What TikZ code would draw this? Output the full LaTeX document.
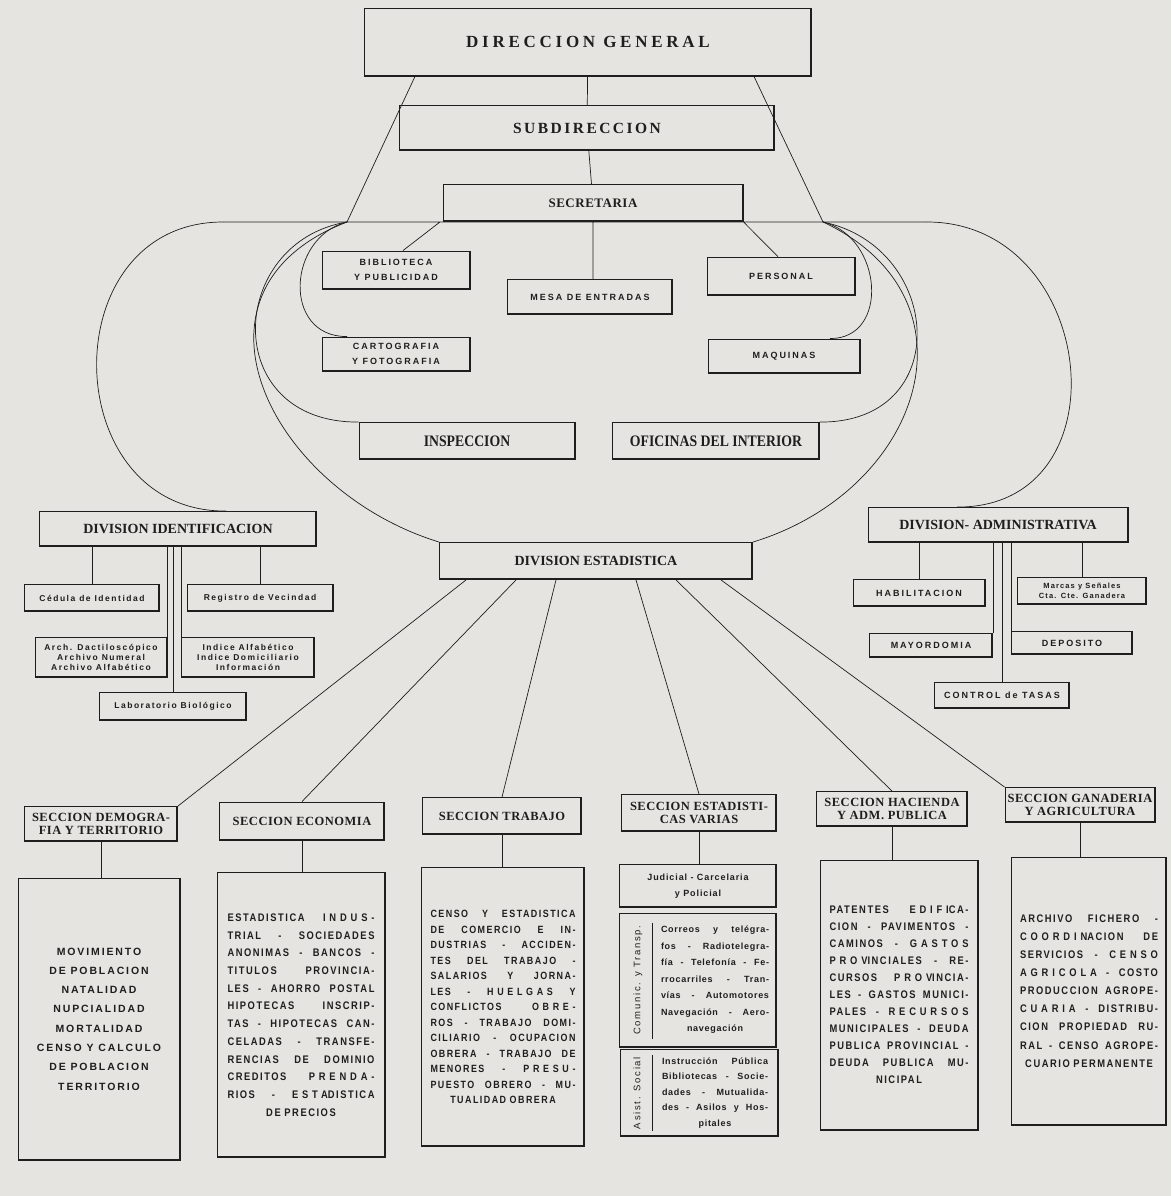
\documentclass[tikz,border=0pt]{standalone}
\usepackage{fontspec}
\setmainfont{Liberation Serif}
\newfontfamily\grot{Liberation Sans}[LetterSpace=5]
\usetikzlibrary{positioning, calc}
\definecolor{paper}{RGB}{229,228,224}
\definecolor{ink}{RGB}{30,30,30}
\newlength{\jw}
\newcommand{\cf}[2]{\grot\bfseries\fontsize{#1}{#2}\selectfont\addfontfeatures{FakeStretch=0.85,LetterSpace=14}}
\newcommand{\ls}[1]{{\addfontfeatures{LetterSpace=35}#1}}
\newcommand{\jl}[1]{\noindent\hbox to\jw{\spaceskip=0.3em plus 1fill minus 0.12em\relax #1}\\}

\begin{document}
\begin{tikzpicture}[x=1pt, y=-1pt,
    box/.style={draw=ink, line width=0.9pt, inner sep=2pt, text=ink,
        path picture={\draw[ink, line width=2.4pt]
            (path picture bounding box.south west) -- (path picture bounding box.south east)
            -- (path picture bounding box.north east);}},
    lbl/.style={box, align=center, font=\grot\bfseries\fontsize{9}{14.5}\selectfont\addfontfeatures{LetterSpace=22}},
    sml/.style={box, align=center, font=\grot\bfseries\fontsize{8.5}{10}\selectfont\addfontfeatures{LetterSpace=18}},
    div/.style={box, font=\bfseries\fontsize{14}{14}\selectfont},
    sechd/.style={box, align=center, font=\bfseries\fontsize{12.5}{12.5}\selectfont\addfontfeatures{LetterSpace=4}},
    txt/.style={box, align=center, font=\cf{11}{17.7}},
    just/.style={text width=#1, execute at begin node={\setlength{\jw}{#1pt}}},
    conn/.style={draw=ink, line width=0.7pt}]

    \fill[paper] (0,0) rectangle (1171,1196);
    \useasboundingbox (0,0) rectangle (1171,1196);

    \node[box, minimum width=447, minimum height=68, font=\bfseries\fontsize{17}{17}\selectfont\addfontfeatures{LetterSpace=22}] (dg) at (588,42) {DIRECCION GENERAL};
    \node[box, minimum width=375, minimum height=45, font=\bfseries\fontsize{15.5}{16}\selectfont\addfontfeatures{LetterSpace=16}] (sub) at (587,128) {SUBDIRECCION};
    \node[box, minimum width=300, minimum height=37, font=\bfseries\fontsize{13}{13}\selectfont\addfontfeatures{LetterSpace=4}] (sec) at (593,203) {SECRETARIA};

    \node[lbl, minimum width=148, minimum height=38] (bib) at (396,270) {BIBLIOTECA\\Y PUBLICIDAD};
    \node[lbl, minimum width=165, minimum height=35] (mesa) at (590,297) {MESA DE ENTRADAS};
    \node[lbl, minimum width=148, minimum height=38] (per) at (781,276) {PERSONAL};
    \node[lbl, minimum width=148, minimum height=34] (carto) at (396,354) {CARTOGRAFIA\\Y FOTOGRAFIA};
    \node[lbl, minimum width=152, minimum height=34] (maq) at (784,356) {MAQUINAS};
    \node[box, minimum width=216, minimum height=37, font=\bfseries\fontsize{16}{16}\selectfont\addfontfeatures{FakeStretch=0.86}] (insp) at (467,441) {INSPECCION};
    \node[box, minimum width=207, minimum height=37, font=\bfseries\fontsize{16}{16}\selectfont\addfontfeatures{FakeStretch=0.86}] (ofi) at (716,441) {OFICINAS DEL INTERIOR};

    \node[div, minimum width=277, minimum height=35] (di) at (178,529) {DIVISION IDENTIFICACION};
    \node[div, minimum width=313, minimum height=37] (de) at (596,561) {DIVISION ESTADISTICA};
    \node[div, minimum width=260, minimum height=35] (da) at (998,525) {DIVISION- ADMINISTRATIVA};

    \node[sml, minimum width=135, minimum height=27] (ced) at (92,598) {Cédula de Identidad};
    \node[sml, minimum width=146, minimum height=27] (reg) at (260,598) {Registro de Vecindad};
    \node[sml, minimum width=132, minimum height=40] (arch) at (101,657) {Arch. Dactiloscópico\\Archivo Numeral\\Archivo Alfabético};
    \node[sml, minimum width=133, minimum height=40] (ind) at (248,657) {Indice Alfabético\\Indice Domiciliario\\Información};
    \node[sml, minimum width=147, minimum height=28] (lab) at (173,706) {Laboratorio Biológico};

    \node[lbl, minimum width=132, minimum height=27] (hab) at (919,593) {HABILITACION};
    \node[sml, minimum width=129, minimum height=27, font=\grot\bfseries\fontsize{7.5}{10}\selectfont\addfontfeatures{LetterSpace=15}] (mar) at (1082,591) {Marcas y Señales\\Cta. Cte. Ganadera};
    \node[lbl, minimum width=123, minimum height=24] (may) at (931,645) {MAYORDOMIA};
    \node[lbl, minimum width=121, minimum height=23] (dep) at (1072,643) {DEPOSITO};
    \node[lbl, minimum width=135, minimum height=26] (ctl) at (1002,695) {CONTROL de TASAS};

    \node[sechd, minimum width=153, minimum height=35] (dem) at (101,824) {SECCION DEMOGRA-\\FIA Y TERRITORIO};
    \node[sechd, minimum width=165, minimum height=38] (eco) at (302,821) {SECCION ECONOMIA};
    \node[sechd, minimum width=159, minimum height=37] (tra) at (502,816) {SECCION TRABAJO};
    \node[sechd, minimum width=155, minimum height=37] (var) at (699,813) {SECCION ESTADISTI-\\CAS VARIAS};
    \node[sechd, minimum width=151, minimum height=35] (hac) at (892,809) {SECCION HACIENDA\\Y ADM. PUBLICA};
    \node[sechd, minimum width=150, minimum height=35] (gan) at (1080,805) {SECCION GANADERIA\\Y AGRICULTURA};

    \node[txt, minimum width=162, minimum height=282, font=\grot\bfseries\fontsize{10.5}{19.3}\selectfont\addfontfeatures{LetterSpace=18}] (demc) at (99,1019)
        {MOVIMIENTO\\DE POBLACION\\NATALIDAD\\NUPCIALIDAD\\MORTALIDAD\\CENSO Y CALCULO\\DE POBLACION\\TERRITORIO};
    \node[txt, just=147, minimum width=168, minimum height=285] (ecoc) at (301,1015)
        {\jl{ESTADISTICA \ls{INDUS-}}
         \jl{TRIAL - SOCIEDADES}
         \jl{ANONIMAS - BANCOS -}
         \jl{TITULOS PROVINCIA-}
         \jl{LES - AHORRO POSTAL}
         \jl{HIPOTECAS INSCRIP-}
         \jl{TAS - HIPOTECAS CAN-}
         \jl{CELADAS - TRANSFE-}
         \jl{RENCIAS DE DOMINIO}
         \jl{CREDITOS \ls{PRENDA-}}
         \jl{RIOS - \ls{ESTA}DISTICA}
         DE PRECIOS};
    \node[txt, just=145, minimum width=163, minimum height=279, font=\cf{10.5}{15.5}] (trac) at (503,1007)
        {\jl{CENSO Y ESTADISTICA}
         \jl{DE COMERCIO E IN-}
         \jl{DUSTRIAS - ACCIDEN-}
         \jl{TES DEL TRABAJO -}
         \jl{SALARIOS Y JORNA-}
         \jl{LES - \ls{HUELGAS} Y}
         \jl{CONFLICTOS \ls{OBRE-}}
         \jl{ROS - TRABAJO DOMI-}
         \jl{CILIARIO - OCUPACION}
         \jl{OBRERA - TRABAJO DE}
         \jl{MENORES - \ls{PRESU-}}
         \jl{PUESTO OBRERO - MU-}
         TUALIDAD OBRERA};

    \node[box, align=center, minimum width=157, minimum height=43, font=\grot\bfseries\fontsize{9}{16}\selectfont\addfontfeatures{LetterSpace=10}] (jud) at (698,886) {Judicial - Carcelaria\\y Policial};
    \node[box, minimum width=157, minimum height=134] (com) at (698,980) {};
    \node[box, minimum width=158, minimum height=87] (asi) at (699,1093) {};
    \node[text=ink, just=108, align=center, font=\grot\bfseries\fontsize{9}{16.5}\selectfont\addfontfeatures{LetterSpace=8}] (comt) at (715,980)
        {\jl{Correos y telégra-}
         \jl{fos - Radiotelegra-}
         \jl{fía - Telefonía - Fe-}
         \jl{rrocarriles - Tran-}
         \jl{vías - Automotores}
         \jl{Navegación - Aero-}
         navegación};
    \node[text=ink, just=106, align=center, font=\grot\bfseries\fontsize{9}{15.5}\selectfont\addfontfeatures{LetterSpace=8}] (asit) at (715,1093)
        {\jl{Instrucción Pública}
         \jl{Bibliotecas - Socie-}
         \jl{dades - Mutualida-}
         \jl{des - Asilos y Hos-}
         pitales};
    \node[rotate=90, text=ink, font=\grot\fontsize{9.5}{9.5}\selectfont\addfontfeatures{LetterSpace=18}] (coml) at (638,980) {Comunic. y Transp.};
    \node[rotate=90, text=ink, font=\grot\fontsize{9.5}{9.5}\selectfont\addfontfeatures{LetterSpace=18}] (asil) at (637,1093) {Asist. Social};

    \node[txt, just=139, minimum width=158, minimum height=270, font=\cf{11}{17}] (hacc) at (899,995)
        {\jl{PATENTES \ls{EDIFI}CA-}
         \jl{CION - PAVIMENTOS -}
         \jl{CAMINOS - \ls{GASTOS}}
         \jl{\ls{PROV}INCIALES - RE-}
         \jl{CURSOS \ls{PROV}INCIA-}
         \jl{LES - GASTOS MUNICI-}
         \jl{PALES - \ls{RECURSOS}}
         \jl{MUNICIPALES - DEUDA}
         \jl{PUBLICA PROVINCIAL -}
         \jl{DEUDA PUBLICA MU-}
         NICIPAL};
    \node[txt, just=138, minimum width=155, minimum height=268, font=\cf{11}{18.1}] (ganc) at (1089,991)
        {\jl{ARCHIVO FICHERO -}
         \jl{\ls{COORDIN}ACION DE}
         \jl{SERVICIOS - \ls{CENSO}}
         \jl{\ls{AGRICOLA} - COSTO}
         \jl{PRODUCCION AGROPE-}
         \jl{\ls{CUARIA} - DISTRIBU-}
         \jl{CION PROPIEDAD RU-}
         \jl{RAL - CENSO AGROPE-}
         CUARIO PERMANENTE};

    \coordinate (lo) at (223,222);
    \coordinate (lj) at (347,222);
    \coordinate (rj) at (823,222);
    \coordinate (ro) at (927,222);

    \draw[conn] (dg) -- (sub) (sub) -- (sec)
        (lo) -- (ro)
        ([xshift=-173pt]dg.south) -- (lj)
        ([xshift=166pt]dg.south) -- (rj)
        ([xshift=-153pt]sec.south) -- ([xshift=7pt]bib.north)
        (sec.south east) -- ([xshift=-3pt]per.north)
        (sec.south) -- (sec.south |- mesa.north);

    \draw[conn] (lo) .. controls (52,222) and (56,512) .. ([xshift=48pt]di.north);
    \draw[conn] (ro) .. controls (1098,222) and (1128,508) .. ([xshift=-41pt]da.north);
    \draw[conn] (lj) .. controls (287,237) and (282,337) .. ([xshift=-49pt]carto.north);
    \draw[conn] (lj) .. controls (227,242) and (219,423) .. (insp.north west);
    \draw[conn] (lj) .. controls (170,290) and (270,490) .. (de.north west);
    \draw[conn] (rj) .. controls (883,237) and (890,339) .. ([xshift=46pt]maq.north);
    \draw[conn] (rj) .. controls (943,247) and (955,423) .. (ofi.north east);
    \draw[conn] (rj) .. controls (985,298) and (923,490) .. (de.north east);

    \draw[conn] (ced.north |- di.south) -- (ced.north)
        (reg.north |- di.south) -- (reg.north)
        (arch.north east |- di.south) -- (arch.north east)
        (lab.north |- di.south) -- (lab.north)
        (ind.north west |- di.south) -- (ind.north west);

    \draw[conn] (hab.north |- da.south) -- (hab.north)
        (mar.north |- da.south) -- (mar.north)
        (may.north east |- da.south) -- (may.north east)
        (ctl.north |- da.south) -- (ctl.north)
        (dep.north west |- da.south) -- (dep.north west);

    \draw[conn] ([xshift=-130pt]de.south) -- (dem.north east)
        ([xshift=-80pt]de.south) -- (eco.north)
        ([xshift=-40pt]de.south) -- (tra.north)
        ([xshift=40pt]de.south) -- (var.north)
        ([xshift=80pt]de.south) -- (hac.north)
        ([xshift=125pt]de.south) -- (gan.north west);

    \draw[conn] (dem.south) -- (dem.south |- demc.north)
        (eco.south) -- (eco.south |- ecoc.north)
        (tra.south) -- (tra.south |- trac.north)
        (var.south) -- (var.south |- jud.north)
        (hac.south) -- (hac.south |- hacc.north)
        (gan.south) -- (gan.south |- ganc.north);

    \draw[conn] ([shift={(33pt,-10pt)}]com.north west) -- ([shift={(33pt,8pt)}]com.south west)
        ([shift={(33pt,-6pt)}]asi.north west) -- ([shift={(33pt,6pt)}]asi.south west);
\end{tikzpicture}
\end{document}
